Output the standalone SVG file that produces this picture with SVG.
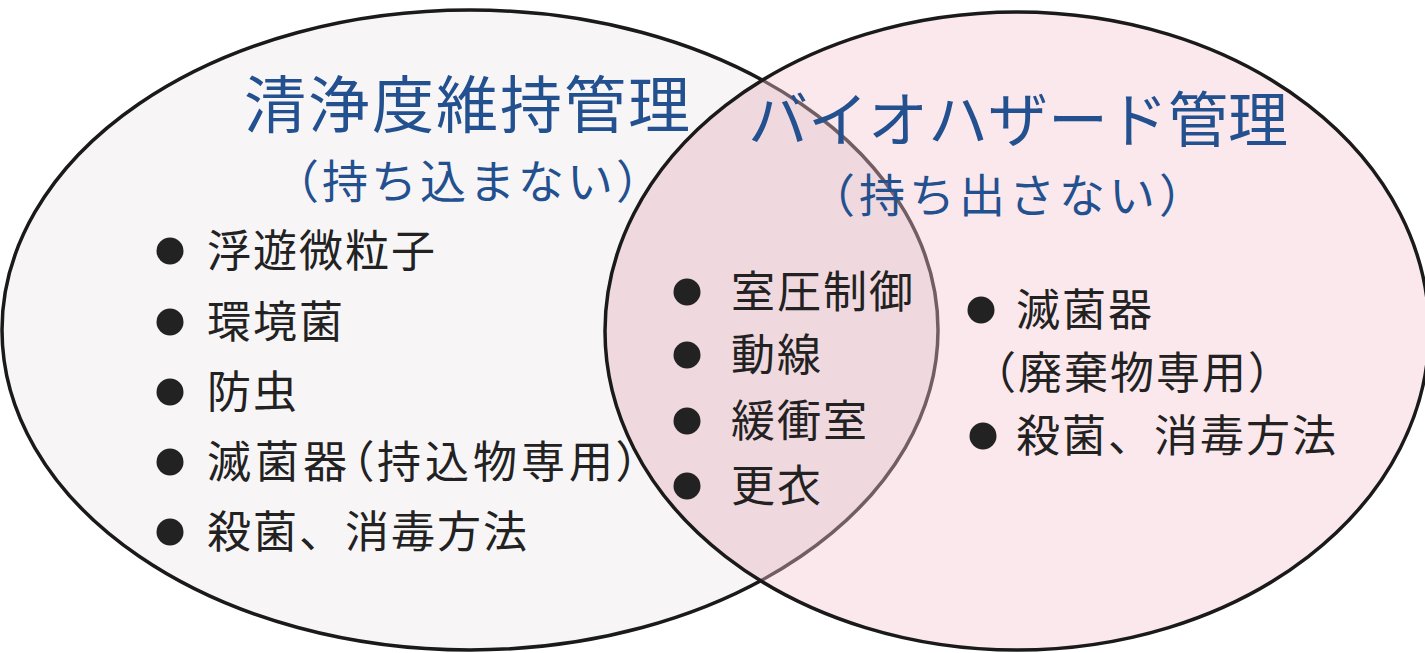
<svg xmlns="http://www.w3.org/2000/svg" width="1425" height="653" viewBox="0 0 1425 653">
<style>
.title{font-family:"Noto Sans CJK JP","Noto Sans",sans-serif;fill:#23508f;text-anchor:middle}
.item{font-family:"Noto Sans CJK JP","Noto Sans",sans-serif;fill:#222;font-size:44px;letter-spacing:2px}
.palt{font-feature-settings:"palt";letter-spacing:4px}
.bullet{fill:#222}
</style>
<defs>
<clipPath id="rightClip"><ellipse cx="1017" cy="331" rx="412" ry="319"/></clipPath>
</defs>
<rect width="1425" height="653" fill="#ffffff"/>
<g id="left-set">
<ellipse cx="470" cy="330" rx="468" ry="320" fill="#f8f5f7" stroke="#1a1a1a" stroke-width="3.5"/>
</g>
<g id="right-set">
<ellipse cx="1017" cy="331" rx="412" ry="319" fill="#f3c6cf" fill-opacity="0.4" stroke="none"/>
<ellipse cx="470" cy="330" rx="468" ry="320" fill="#a0607a" fill-opacity="0.08" stroke="none" clip-path="url(#rightClip)"/>
<ellipse cx="1017" cy="331" rx="412" ry="319" fill="none" stroke="#1a1a1a" stroke-width="3.5"/>
</g>
<g id="left-text">
<text class="title" x="468" y="128" font-size="62" letter-spacing="2">清浄度維持管理</text>
<text class="title" x="469" y="198" font-size="46" letter-spacing="3">（持ち込まない）</text>
<circle class="bullet" cx="170" cy="251" r="13.5"/>
<text class="item" x="207" y="267">浮遊微粒子</text>
<circle class="bullet" cx="170" cy="322" r="13.5"/>
<text class="item" x="207" y="338">環境菌</text>
<circle class="bullet" cx="170" cy="392" r="13.5"/>
<text class="item" x="207" y="408">防虫</text>
<circle class="bullet" cx="170" cy="462" r="13.5"/>
<text class="item palt" x="207" y="478">滅菌器（持込物専用）</text>
<circle class="bullet" cx="170" cy="532" r="13.5"/>
<text class="item" x="207" y="548">殺菌、消毒方法</text>
</g>
<g id="middle-text">
<circle class="bullet" cx="687" cy="292" r="13.5"/>
<text class="item" x="731" y="308">室圧制御</text>
<circle class="bullet" cx="687" cy="355" r="13.5"/>
<text class="item" x="731" y="371">動線</text>
<circle class="bullet" cx="687" cy="421" r="13.5"/>
<text class="item" x="731" y="437">緩衝室</text>
<circle class="bullet" cx="687" cy="486" r="13.5"/>
<text class="item" x="731" y="502">更衣</text>
</g>
<g id="right-text">
<text class="title" x="1018" y="142" font-size="60">バイオハザード管理</text>
<text class="title" x="1009" y="212" font-size="46" letter-spacing="4">（持ち出さない）</text>
<circle class="bullet" cx="981" cy="310" r="13.5"/>
<text class="item" x="1016" y="326">滅菌器</text>
<text class="item" x="972" y="389">（廃棄物専用）</text>
<circle class="bullet" cx="983" cy="436" r="13.5"/>
<text class="item" x="1016" y="452">殺菌、消毒方法</text>
</g>
</svg>
